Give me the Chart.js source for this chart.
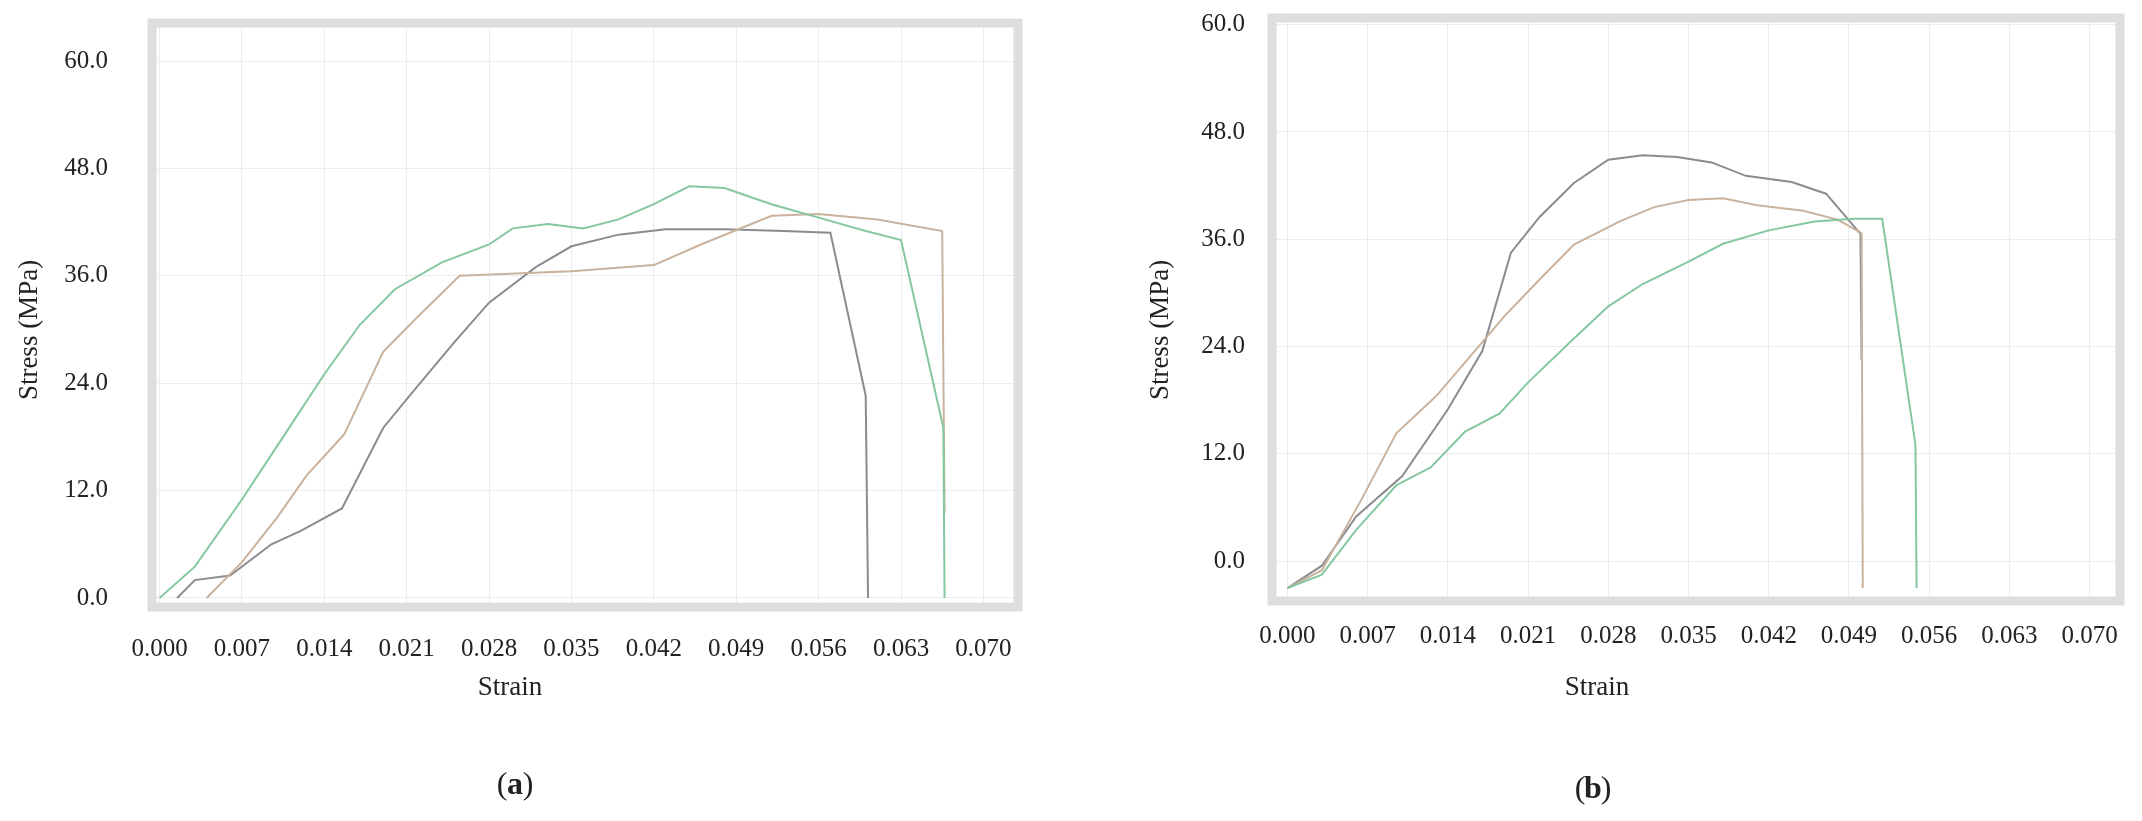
<!DOCTYPE html>
<html>
<head>
<meta charset="utf-8">
<script src="https://cdn.jsdelivr.net/npm/chart.js@4.4.1/dist/chart.umd.min.js"></script>
<style>
  body { margin: 0; background: #fff; width: 2142px; height: 821px; overflow: hidden; }
  .box { position: absolute; top: 0; width: 1071px; height: 821px; }
</style>
</head>
<body>
<div class="box" style="left:0"><canvas id="chartA"></canvas></div>
<div class="box" style="left:1071px"><canvas id="chartB"></canvas></div>
<script>
// strain ticks and stress ticks shared by both panels
var strainTicks = [0, 0.007, 0.014, 0.021, 0.028, 0.035, 0.042, 0.049, 0.056, 0.063, 0.070];
var stressTicks = [0, 12, 24, 36, 48, 60];

// panel (a)
var aGreenX = [0, 0.003, 0.007, 0.010, 0.014, 0.017, 0.020, 0.024, 0.028, 0.030, 0.033, 0.036, 0.039, 0.042, 0.045, 0.048, 0.052, 0.056, 0.060, 0.063, 0.0666, 0.0667];
var aGreenY = [0, 3.5, 11, 17, 25, 30.5, 34.5, 37.5, 39.5, 41.3, 41.8, 41.3, 42.3, 44, 46, 45.8, 44, 42.5, 41, 40, 19, 0];
var aTanX = [0.004, 0.007, 0.010, 0.0125, 0.0157, 0.019, 0.022, 0.0255, 0.035, 0.042, 0.046, 0.052, 0.056, 0.061, 0.0665, 0.0667];
var aTanY = [0, 4, 9, 13.7, 18.3, 27.5, 31.5, 36, 36.5, 37.2, 39.5, 42.7, 42.9, 42.3, 41, 9.5];
var aGrayX = [0.0015, 0.003, 0.006, 0.0095, 0.012, 0.0155, 0.019, 0.0215, 0.025, 0.028, 0.032, 0.035, 0.039, 0.043, 0.048, 0.053, 0.057, 0.0600, 0.0602];
var aGrayY = [0, 2, 2.5, 6, 7.5, 10, 19, 23, 28.5, 33, 37, 39.3, 40.6, 41.2, 41.2, 41, 40.8, 22.6, 0];

// panel (b)
var bGrayX = [0, 0.003, 0.006, 0.010, 0.014, 0.017, 0.0195, 0.022, 0.025, 0.028, 0.031, 0.034, 0.037, 0.040, 0.044, 0.047, 0.0500, 0.0501];
var bGrayY = [-3, -0.5, 5, 9.5, 17, 23.5, 34.5, 38.5, 42.3, 44.9, 45.4, 45.2, 44.6, 43.1, 42.4, 41.1, 36.6, 22.5];
var bTanX = [0, 0.003, 0.0065, 0.0095, 0.013, 0.016, 0.019, 0.022, 0.025, 0.029, 0.032, 0.035, 0.038, 0.041, 0.045, 0.048, 0.0501, 0.0502];
var bTanY = [-3, -1, 7, 14.3, 18.5, 23, 27.5, 31.5, 35.4, 38, 39.6, 40.4, 40.6, 39.8, 39.2, 38.2, 36.7, -3];
var bGreenX = [0, 0.003, 0.006, 0.0095, 0.0125, 0.0155, 0.0185, 0.021, 0.025, 0.028, 0.031, 0.035, 0.038, 0.042, 0.046, 0.0495, 0.0519, 0.0548, 0.0549];
var bGreenY = [-3, -1.5, 3.5, 8.5, 10.5, 14.5, 16.5, 20, 24.9, 28.5, 31, 33.5, 35.5, 37, 38, 38.3, 38.3, 13, -3];

var GREEN = '#84c7a0', TAN = '#c9b29e', GRAY = '#8c8c90';

function pts(xs, ys) {
  return xs.map(function (x, i) { return { x: x, y: ys[i] }; });
}

function ds(xs, ys, col) {
  return { data: pts(xs, ys), borderColor: col, borderWidth: 2, showLine: true, pointRadius: 0, tension: 0 };
}

// frame, tick labels and titles drawn from the scales
var decor = {
  id: 'decor',
  beforeDatasetsDraw: function (chart) {
    var c = chart.ctx, a = chart.chartArea;
    c.save();
    c.strokeStyle = '#dedede';
    c.lineWidth = 9;
    c.strokeRect(a.left - 4, a.top - 4, a.right - a.left + 8, a.bottom - a.top + 8);
    c.restore();
  },
  afterDraw: function (chart) {
    var c = chart.ctx, o = chart.options.plugins.decor;
    var xs = chart.scales.x, ys = chart.scales.y;
    c.save();
    c.fillStyle = '#222';
    c.font = '25px "Liberation Serif"';
    c.textAlign = 'center';
    c.textBaseline = 'middle';
    strainTicks.forEach(function (t) {
      c.fillText(t.toFixed(3), xs.getPixelForValue(t), o.xLabelY);
    });
    c.textAlign = 'right';
    stressTicks.forEach(function (t) {
      c.fillText(t.toFixed(1), o.yLabelX, ys.getPixelForValue(t));
    });
    c.textAlign = 'center';
    c.font = '27px "Liberation Serif"';
    c.fillText('Strain', o.strainX, o.strainY);
    c.save();
    c.translate(o.stressX, o.stressY);
    c.rotate(-Math.PI / 2);
    c.fillText('Stress (MPa)', 0, 0);
    c.restore();
    c.font = '32px "Liberation Serif"';
    c.fillText('(', o.tagX - 13, o.tagY);
    c.fillText(')', o.tagX + 13, o.tagY);
    c.font = 'bold 32px "Liberation Serif"';
    c.fillText(o.tag, o.tagX, o.tagY);
    c.restore();
  }
};

function makeChart(id, sets, xr, yr, pad, deco) {
  return new Chart(document.getElementById(id), {
    type: 'scatter',
    data: { datasets: sets },
    options: {
      responsive: true,
      maintainAspectRatio: false,
      animation: false,
      layout: { padding: pad },
      plugins: { legend: { display: false }, tooltip: { enabled: false }, decor: deco },
      scales: {
        x: {
          type: 'linear', min: xr[0], max: xr[1],
          afterBuildTicks: function (s) { s.ticks = strainTicks.map(function (v) { return { value: v }; }); },
          ticks: { display: false },
          grid: { color: '#ececec', drawTicks: false },
          border: { display: false }
        },
        y: {
          type: 'linear', min: yr[0], max: yr[1],
          afterBuildTicks: function (s) { s.ticks = stressTicks.map(function (v) { return { value: v }; }); },
          ticks: { display: false },
          grid: { color: '#ececec', drawTicks: false },
          border: { display: false }
        }
      }
    },
    plugins: [decor]
  });
}

makeChart('chartA',
  [ds(aGreenX, aGreenY, GREEN), ds(aTanX, aTanY, TAN), ds(aGrayX, aGrayY, GRAY)],
  [-0.0003, 0.0726], [-0.56, 63.8],
  { left: 156, top: 27, right: 57, bottom: 218 },
  { xLabelY: 649, yLabelX: 108, strainX: 510, strainY: 688, stressX: 30, stressY: 330, tag: 'a', tagX: 515, tagY: 786 });

makeChart('chartB',
  [ds(bGreenX, bGreenY, GREEN), ds(bTanX, bTanY, TAN), ds(bGrayX, bGrayY, GRAY)],
  [-0.001, 0.0723], [-4.0, 60.3],
  { left: 205, top: 22, right: 26, bottom: 224 },
  { xLabelY: 636, yLabelX: 174, strainX: 526, strainY: 688, stressX: 90, stressY: 330, tag: 'b', tagX: 522, tagY: 790 });
</script>
</body>
</html>
